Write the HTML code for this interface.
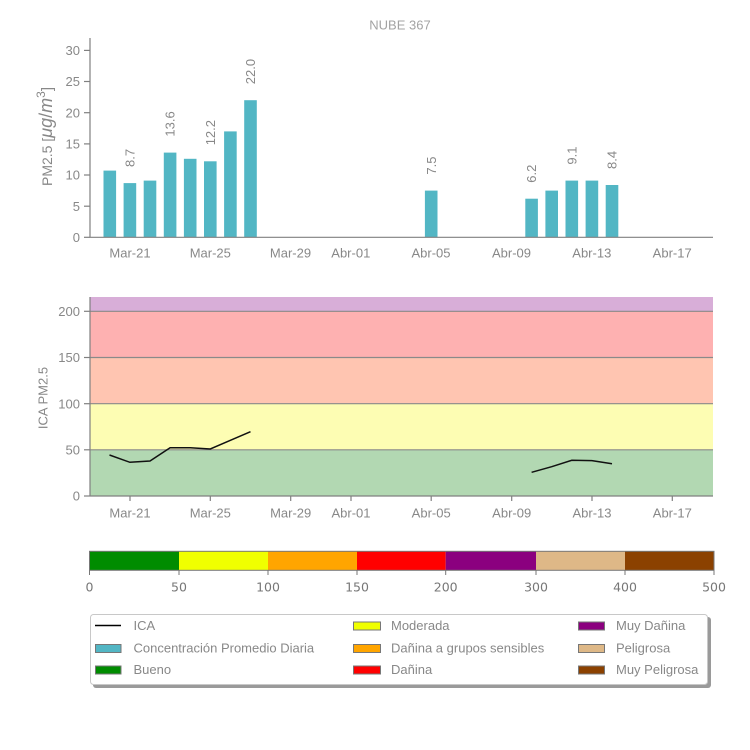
<!DOCTYPE html>
<html><head><meta charset="utf-8"><style>
html,body{margin:0;padding:0;background:#fff;}
svg{display:block;font-family:"Liberation Sans",sans-serif;}
.t{fill:#888;font-size:13px;}
.c{fill:#777;font-size:12.5px;font-family:"DejaVu Sans",sans-serif;}
</style></head><body>
<svg width="750" height="750" viewBox="0 0 750 750" xmlns="http://www.w3.org/2000/svg">
<rect width="750" height="750" fill="#fff"/>
<!-- Title -->
<text x="400" y="29.5" text-anchor="middle" style="fill:#a3a3a3;font-size:13px">NUBE 367</text>

<!-- TOP CHART -->
<g fill="#52b6c4">
<rect x="103.5" y="170.6" width="12.6" height="66.7"/>
<rect x="123.6" y="183.1" width="12.6" height="54.2"/>
<rect x="143.7" y="180.6" width="12.6" height="56.7"/>
<rect x="163.8" y="152.6" width="12.6" height="84.7"/>
<rect x="183.9" y="158.8" width="12.6" height="78.5"/>
<rect x="204.0" y="161.3" width="12.6" height="76.0"/>
<rect x="224.1" y="131.4" width="12.6" height="105.9"/>
<rect x="244.2" y="100.2" width="12.6" height="137.1"/>
<rect x="424.9" y="190.6" width="12.6" height="46.7"/>
<rect x="525.3" y="198.7" width="12.6" height="38.6"/>
<rect x="545.4" y="190.6" width="12.6" height="46.7"/>
<rect x="565.5" y="180.6" width="12.6" height="56.7"/>
<rect x="585.6" y="180.6" width="12.6" height="56.7"/>
<rect x="605.7" y="185.0" width="12.6" height="52.3"/>
</g>
<g class="t">
<text transform="translate(134.5,167) rotate(-90)">8.7</text>
<text transform="translate(174.7,136.6) rotate(-90)">13.6</text>
<text transform="translate(214.9,145.3) rotate(-90)">12.2</text>
<text transform="translate(255.1,84.2) rotate(-90)">22.0</text>
<text transform="translate(435.8,174.6) rotate(-90)">7.5</text>
<text transform="translate(536.2,182.7) rotate(-90)">6.2</text>
<text transform="translate(576.4,164.6) rotate(-90)">9.1</text>
<text transform="translate(616.6,169) rotate(-90)">8.4</text>
</g>
<g stroke="#808080" stroke-width="1.2" fill="none">
<line x1="90" y1="38" x2="90" y2="237.3"/>
<line x1="90" y1="237.3" x2="713" y2="237.3"/>
<line x1="84" y1="237.3" x2="90" y2="237.3"/>
<line x1="84" y1="206.2" x2="90" y2="206.2"/>
<line x1="84" y1="175.0" x2="90" y2="175.0"/>
<line x1="84" y1="143.9" x2="90" y2="143.9"/>
<line x1="84" y1="112.7" x2="90" y2="112.7"/>
<line x1="84" y1="81.5" x2="90" y2="81.5"/>
<line x1="84" y1="50.4" x2="90" y2="50.4"/>
</g>
<g class="t" text-anchor="end">
<text x="80" y="242">0</text>
<text x="80" y="210.9">5</text>
<text x="80" y="179.7">10</text>
<text x="80" y="148.6">15</text>
<text x="80" y="117.4">20</text>
<text x="80" y="86.2">25</text>
<text x="80" y="55.1">30</text>
</g>
<g class="t" text-anchor="middle">
<text x="130" y="257.5">Mar-21</text>
<text x="210.3" y="257.5">Mar-25</text>
<text x="290.5" y="257.5">Mar-29</text>
<text x="350.8" y="257.5">Abr-01</text>
<text x="431" y="257.5">Abr-05</text>
<text x="511.5" y="257.5">Abr-09</text>
<text x="591.8" y="257.5">Abr-13</text>
<text x="672.2" y="257.5">Abr-17</text>
</g>
<text transform="translate(52,136.5) rotate(-90)" text-anchor="middle" style="fill:#888;font-size:14px">PM2.5 [<tspan font-style="italic" font-size="18">μg</tspan><tspan font-size="18">/</tspan><tspan font-style="italic" font-size="18">m</tspan><tspan font-size="12" dy="-7">3</tspan><tspan dy="7" font-size="15">]</tspan></text>

<!-- BOTTOM CHART -->
<rect x="90" y="449.8" width="623" height="46.2" fill="#b2d8b2"/>
<rect x="90" y="403.7" width="623" height="46.1" fill="#fdfdb3"/>
<rect x="90" y="357.5" width="623" height="46.2" fill="#ffc5b1"/>
<rect x="90" y="311.3" width="623" height="46.2" fill="#feb1b1"/>
<rect x="90" y="297" width="623" height="14.3" fill="#d8aed8"/>
<g stroke="#8a8a8a" stroke-width="1.2">
<line x1="90" y1="449.8" x2="713" y2="449.8"/>
<line x1="90" y1="403.7" x2="713" y2="403.7"/>
<line x1="90" y1="357.5" x2="713" y2="357.5"/>
<line x1="90" y1="311.3" x2="713" y2="311.3"/>
</g>
<polyline fill="none" stroke="#111" stroke-width="1.5" points="109.5,455 129.9,462.3 150,461 170.1,447.7 190.2,447.7 210.3,449 230.4,440.3 250.5,431.7"/>
<polyline fill="none" stroke="#111" stroke-width="1.5" points="531.6,472.3 551.7,466.7 571.8,460.3 591.9,460.6 612,463.7"/>
<g stroke="#808080" stroke-width="1.2" fill="none">
<line x1="90" y1="297" x2="90" y2="496"/>
<line x1="90" y1="496" x2="713" y2="496"/>
<line x1="84" y1="496" x2="90" y2="496"/>
<line x1="84" y1="449.8" x2="90" y2="449.8"/>
<line x1="84" y1="403.7" x2="90" y2="403.7"/>
<line x1="84" y1="357.5" x2="90" y2="357.5"/>
<line x1="84" y1="311.3" x2="90" y2="311.3"/>
<line x1="130" y1="496" x2="130" y2="501"/>
<line x1="210.3" y1="496" x2="210.3" y2="501"/>
<line x1="290.7" y1="496" x2="290.7" y2="501"/>
<line x1="351" y1="496" x2="351" y2="501"/>
<line x1="431.2" y1="496" x2="431.2" y2="501"/>
<line x1="511.7" y1="496" x2="511.7" y2="501"/>
<line x1="592" y1="496" x2="592" y2="501"/>
<line x1="672.3" y1="496" x2="672.3" y2="501"/>
</g>
<g class="t" text-anchor="end">
<text x="80" y="500.7">0</text>
<text x="80" y="454.5">50</text>
<text x="80" y="408.4">100</text>
<text x="80" y="362.2">150</text>
<text x="80" y="316">200</text>
</g>
<g class="t" text-anchor="middle">
<text x="130" y="517.5">Mar-21</text>
<text x="210.3" y="517.5">Mar-25</text>
<text x="290.7" y="517.5">Mar-29</text>
<text x="351" y="517.5">Abr-01</text>
<text x="431.2" y="517.5">Abr-05</text>
<text x="511.7" y="517.5">Abr-09</text>
<text x="592" y="517.5">Abr-13</text>
<text x="672.3" y="517.5">Abr-17</text>
</g>
<text class="t" transform="translate(47.5,398) rotate(-90)" text-anchor="middle">ICA PM2.5</text>

<!-- COLORBAR -->
<rect x="89.5" y="551.3" width="89.5" height="19" fill="#008c00"/>
<rect x="179" y="551.3" width="89" height="19" fill="#f0ff00"/>
<rect x="268" y="551.3" width="89" height="19" fill="#ffa500"/>
<rect x="357" y="551.3" width="88.7" height="19" fill="#ff0000"/>
<rect x="445.7" y="551.3" width="90.3" height="19" fill="#8b007f"/>
<rect x="536" y="551.3" width="89" height="19" fill="#deb887"/>
<rect x="625" y="551.3" width="89" height="19" fill="#8b4100"/>
<rect x="89.5" y="551.3" width="624.5" height="19" fill="none" stroke="#777" stroke-width="1"/>
<g stroke="#777" stroke-width="1">
<line x1="89.5" y1="570.3" x2="89.5" y2="575"/>
<line x1="179" y1="570.3" x2="179" y2="575"/>
<line x1="268" y1="570.3" x2="268" y2="575"/>
<line x1="357" y1="570.3" x2="357" y2="575"/>
<line x1="445.7" y1="570.3" x2="445.7" y2="575"/>
<line x1="536" y1="570.3" x2="536" y2="575"/>
<line x1="625" y1="570.3" x2="625" y2="575"/>
<line x1="714" y1="570.3" x2="714" y2="575"/>
</g>
<g class="c" text-anchor="middle">
<text x="89.5" y="591.5">0</text>
<text x="179" y="591.5">50</text>
<text x="268" y="591.5">100</text>
<text x="357" y="591.5">150</text>
<text x="445.7" y="591.5">200</text>
<text x="536" y="591.5">300</text>
<text x="625" y="591.5">400</text>
<text x="714" y="591.5">500</text>
</g>

<!-- LEGEND -->
<rect x="93" y="617" width="618" height="71" rx="3" fill="#9a9a9a"/>
<rect x="90.5" y="614.5" width="617" height="70" rx="3" fill="#fff" stroke="#c8c8c8" stroke-width="1"/>
<line x1="95" y1="625.5" x2="121" y2="625.5" stroke="#000" stroke-width="1.6"/>
<rect x="95.5" y="644.5" width="25.5" height="8" fill="#52b6c4" stroke="#777" stroke-width="1"/>
<rect x="95.5" y="666" width="25.5" height="8" fill="#008c00" stroke="#777" stroke-width="1"/>
<rect x="353.5" y="622" width="27" height="8" fill="#f0ff00" stroke="#777" stroke-width="1"/>
<rect x="353.5" y="644.5" width="27" height="8" fill="#ffa500" stroke="#777" stroke-width="1"/>
<rect x="353.5" y="666" width="27" height="8" fill="#ff0000" stroke="#777" stroke-width="1"/>
<rect x="578.5" y="622" width="26" height="8" fill="#8b007f" stroke="#777" stroke-width="1"/>
<rect x="578.5" y="644.5" width="26" height="8" fill="#deb887" stroke="#777" stroke-width="1"/>
<rect x="578.5" y="666" width="26" height="8" fill="#8b4100" stroke="#777" stroke-width="1"/>
<g class="t">
<text x="133.5" y="630">ICA</text>
<text x="133.5" y="652.5">Concentración Promedio Diaria</text>
<text x="133.5" y="674">Bueno</text>
<text x="391" y="630">Moderada</text>
<text x="391" y="652.5">Dañina a grupos sensibles</text>
<text x="391" y="674">Dañina</text>
<text x="616" y="630">Muy Dañina</text>
<text x="616" y="652.5">Peligrosa</text>
<text x="616" y="674">Muy Peligrosa</text>
</g>
</svg>
</body></html>
